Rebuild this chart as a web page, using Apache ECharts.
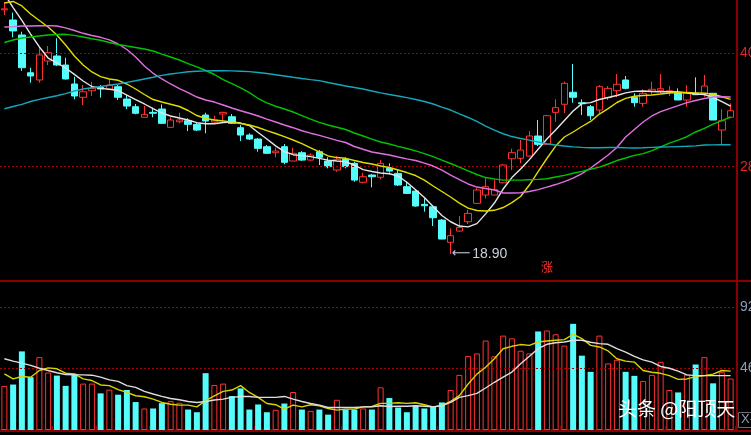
<!DOCTYPE html>
<html><head><meta charset="utf-8">
<script src="https://cdn.jsdelivr.net/npm/echarts@6/dist/echarts.min.js"></script>
<style>html,body{margin:0;padding:0;background:#000;}#chart{width:751px;height:435px;}</style>
</head><body><div id="chart"></div>
<script>
// ---- data ----
const openPrice = [45.16,44.06,42.45,38.39,37.61,39.65,40.19,39.22,37.18,35.75,36.46,36.82,36.61,36.89,35.56,34.74,33.60,34.13,34.49,32.52,33.12,33.23,32.84,33.84,33.09,33.95,33.66,32.48,31.69,31.26,30.44,29.79,30.44,28.90,29.79,29.00,29.90,28.90,27.93,29.11,28.65,26.61,27.39,27.15,28.11,27.57,26.14,25.67,24.24,23.98,22.55,20.16,21.37,22.37,24.35,25.24,25.24,26.56,29.14,29.19,29.43,31.59,30.69,34.13,35.00,36.29,35.17,34.74,34.38,35.71,36.46,37.61,35.75,35.10,36.43,36.46,36.35,36.29,35.46,36.18,36.18,36.18,32.23,33.60];
const closePrice = [45.26,42.88,38.93,38.04,40.30,40.54,39.22,37.72,35.89,36.35,36.71,36.64,37.07,35.75,34.81,34.03,33.92,34.03,32.95,33.31,33.31,32.84,32.23,33.20,33.31,34.13,32.95,31.69,31.26,30.26,29.73,29.97,28.76,29.73,29.00,29.54,29.30,28.29,29.08,28.29,26.85,27.21,27.21,28.65,27.82,26.32,25.42,24.06,24.09,22.80,20.51,20.87,21.77,23.27,25.78,26.14,25.85,28.47,29.79,30.08,31.59,30.69,33.77,34.63,37.25,35.75,35.06,33.77,36.89,36.71,37.15,36.71,35.17,36.18,36.61,36.67,36.46,35.46,36.24,36.03,36.96,33.31,33.23,34.31];
const lowPrice = [44.60,42.20,38.58,37.32,37.32,39.22,39.11,37.66,35.53,34.92,35.89,35.71,36.53,35.46,34.49,33.92,33.60,33.60,32.88,32.52,32.95,32.12,32.12,31.88,32.95,33.20,32.88,31.05,31.16,29.90,29.65,29.30,28.54,28.90,28.90,28.93,28.47,28.11,27.75,28.11,26.67,26.50,26.07,26.93,27.64,26.21,25.35,23.98,23.45,21.91,20.48,18.90,21.30,22.12,24.27,24.89,25.24,26.50,27.93,28.65,29.36,30.51,30.62,33.12,34.03,35.17,33.84,33.31,34.03,35.46,35.75,36.61,34.74,34.74,35.99,36.18,35.89,35.46,34.74,35.99,35.81,33.31,30.73,33.49];
const highPrice = [45.98,44.85,42.80,38.93,41.02,41.26,42.09,40.00,37.96,37.07,37.43,37.07,37.72,37.07,35.99,35.03,34.81,34.63,34.99,33.60,34.09,33.49,33.02,34.09,33.77,34.20,33.95,32.77,31.88,31.37,30.62,30.33,30.73,30.33,29.97,29.73,30.08,29.30,29.43,29.30,28.82,27.64,27.50,29.00,28.65,28.00,26.67,25.78,24.89,24.17,22.66,21.66,22.98,23.63,25.99,27.15,26.96,28.58,30.22,31.16,32.12,33.31,33.84,35.53,37.43,39.33,35.53,34.92,37.07,36.96,38.25,38.04,36.18,36.61,37.43,38.25,36.96,36.71,37.07,37.90,38.15,36.21,34.46,35.10];
const volume = [33,34,58.8,39.5,54.5,43,40.7,33,42,34.7,34.7,27.4,30.2,26.4,29.9,20.9,16.1,16.1,20.1,21.6,20.4,15.3,13.3,42.5,33.7,34.7,25.4,31.1,15.3,19.1,13.3,15.1,19.8,28.4,15.3,14.3,15.3,11.5,22.6,15.3,15.3,16.1,15.3,31.9,23.9,16.8,13.3,18.3,16.1,17.9,20.6,29.9,41.2,55.3,57.3,66.9,55.1,70.6,68.6,59.3,57.3,73.7,74.4,71.6,63.1,79.4,55.6,43.5,70.6,49.8,52.5,43.5,40.5,36.7,41.2,51,29.9,28.1,41.5,49,54.5,34.9,43.2,38.5];
const ma5 = [46.86,45.40,44.01,42.55,41.16,39.97,39.44,38.90,38.22,37.50,36.91,36.71,36.61,36.48,35.99,35.51,35.03,34.52,34.06,33.74,33.52,33.31,33.02,32.90,32.91,33.04,33.09,32.98,32.71,31.96,31.26,30.53,29.91,29.58,29.48,29.37,29.18,29.00,28.90,28.82,28.45,27.98,27.77,27.61,27.53,27.29,26.62,25.81,24.97,24.02,23.04,22.37,21.91,21.82,22.17,23.22,24.38,25.89,27.12,28.04,29.05,30.16,31.26,32.23,33.25,34.27,35.07,35.18,35.51,35.73,35.94,36.22,36.39,36.43,36.37,36.35,36.35,36.32,36.21,36.10,36.05,35.73,35.28,34.81];
const ma10 = [45.89,46.05,45.57,44.70,44.01,43.31,42.45,41.37,40.19,39.22,38.47,37.98,37.72,37.58,37.18,36.64,36.05,35.51,35.24,35.00,34.76,34.33,33.79,33.47,33.31,33.20,33.09,32.93,32.77,32.50,32.17,31.86,31.53,31.16,30.76,30.30,29.87,29.44,29.27,29.19,28.95,28.74,28.58,28.36,28.20,27.93,27.66,27.34,26.85,26.21,25.62,25.03,24.38,23.84,23.58,23.52,23.60,23.90,24.43,25.08,26.32,27.77,29.17,30.51,31.48,32.02,32.61,33.15,33.95,34.54,35.19,35.64,35.86,35.94,36.00,36.10,36.21,36.26,36.26,36.23,36.18,36.08,35.81,35.53];
const ma20 = [43.31,43.34,43.42,43.42,43.44,43.45,43.42,43.22,42.93,42.63,42.39,42.20,41.93,41.48,40.89,40.08,39.11,38.33,37.72,37.18,36.69,36.26,35.78,35.46,35.24,34.92,34.60,34.30,34.03,33.74,33.41,33.09,32.77,32.48,32.15,31.89,31.66,31.39,31.12,30.89,30.46,30.16,29.87,29.71,29.54,29.33,29.13,28.95,28.68,28.36,27.93,27.39,26.89,26.43,26.10,25.94,25.78,25.46,25.46,25.49,25.62,25.83,26.10,26.37,26.69,27.07,27.55,28.15,28.84,29.54,30.35,31.48,32.29,33.09,33.74,34.20,34.54,34.85,35.17,35.40,35.62,35.78,35.81,35.78];
const ma30 = [41.64,41.91,42.12,42.23,42.34,42.45,42.50,42.52,42.41,42.23,42.05,41.88,41.64,41.42,41.26,41.10,40.94,40.73,40.40,40.08,39.76,39.38,39.01,38.63,38.20,37.66,37.23,36.75,36.26,35.62,35.14,34.79,34.49,34.17,33.79,33.41,33.06,32.77,32.53,32.29,31.91,31.59,31.26,30.94,30.73,30.48,30.24,29.99,29.70,29.38,29.00,28.63,28.25,27.85,27.45,27.12,26.98,26.85,26.85,26.85,26.89,26.93,26.99,27.18,27.36,27.58,27.79,28.01,28.25,28.58,28.95,29.22,29.51,29.70,30.01,30.43,30.83,31.15,31.51,32.02,32.41,32.87,33.25,33.63];
const ma60 = [34.52,34.76,34.99,35.30,35.52,35.73,35.92,36.14,36.43,36.64,36.78,36.91,37.04,37.18,37.36,37.53,37.72,37.90,38.11,38.25,38.38,38.49,38.55,38.59,38.61,38.61,38.59,38.55,38.51,38.41,38.31,38.18,38.04,37.90,37.77,37.65,37.54,37.34,37.15,36.96,36.80,36.64,36.43,36.23,36.05,35.89,35.71,35.51,35.30,35.03,34.70,34.38,33.97,33.58,33.15,32.66,32.23,31.83,31.53,31.32,31.15,30.94,30.75,30.62,30.51,30.42,30.37,30.33,30.33,30.35,30.36,30.32,30.30,30.33,30.37,30.40,30.42,30.45,30.48,30.53,30.62,30.64,30.65,30.65];
const volMa5 = [42.0,38.2,40.0,39.5,44.5,46.5,45.8,42.5,42.0,38.2,37.0,33.7,33.2,30.2,28.1,25.6,24.9,23.1,20.6,19.3,18.6,18.6,17.3,21.9,25.6,28.9,29.9,33.2,28.1,24.4,19.8,18.9,15.6,18.6,17.3,18.9,18.1,16.1,14.9,15.6,15.6,17.3,17.6,19.9,19.9,20.4,19.9,20.4,18.9,17.3,18.4,21.4,25.7,34.4,41.8,46.9,53.3,60.8,62.6,63.9,63.3,65.8,66.6,67.1,67.6,71.6,68.4,63.3,62.1,59.1,53.3,51.5,50.8,44.5,43.2,42.4,40.7,37.9,38.2,39.9,40.7,41.8,44.5,44.0];
const volMa10 = [53.3,51.5,50.0,48.3,46.2,44.5,42.8,41.5,41.2,41.2,41.0,39.5,37.5,36.4,33.2,31.9,28.9,26.9,25.1,23.6,22.6,21.3,20.6,21.3,22.4,23.1,24.4,25.1,25.1,24.4,24.4,24.4,25.1,23.1,21.3,19.8,18.6,16.8,16.8,16.8,16.8,17.3,17.3,18.1,17.6,17.8,17.8,18.1,17.8,17.3,18.1,20.6,24.4,25.7,27.4,31.4,35.7,39.5,43.3,49.5,55.1,60.8,64.1,65.3,65.8,67.1,67.1,65.6,64.6,64.1,60.8,58.3,55.1,52.5,50.8,47.5,46.2,44.0,41.2,40.7,40.7,40.7,40.7,40.7];
const priceTicks = [40.48, 28.29];
const volumeTicks = [92, 46];
const monthTickIndex = [6, 11, 17, 29, 39, 50, 64, 76];
const lowMarkIndex = 51;
const lowMarkValue = 18.90;

const categories = openPrice.map((_, i) => String(i + 1));

// ---- styles ----
const UP = '#ff3232', DOWN = '#54fcfc', AXIS = '#8a0000', GRIDDOT = '#a80000';
const candleData = openPrice.map((o, i) => [o, closePrice[i], lowPrice[i], highPrice[i]]);
const volData = volume.map((v, i) => ({
  value: v,
  itemStyle: closePrice[i] >= openPrice[i]
    ? { color: '#000', borderColor: UP, borderWidth: 1 }
    : { color: DOWN, borderWidth: 0 }
}));

function maLine(name, data, color, xi, yi) {
  return { name, type: 'line', data, xAxisIndex: xi, yAxisIndex: yi, symbol: 'none', smooth: false,
    lineStyle: { color, width: 1.4 }, z: 5, silent: true, clip: true };
}

const chart = echarts.init(document.getElementById('chart'), null, { renderer: 'canvas' });
chart.setOption({
  backgroundColor: '#000',
  animation: false,
  grid: [
    { left: 0, top: 0, width: 735, height: 281, containLabel: false, outerBoundsMode: 'none' },
    { left: 0, top: 282, width: 735, height: 148, containLabel: false, outerBoundsMode: 'none' }
  ],
  xAxis: [
    { type: 'category', gridIndex: 0, data: categories, boundaryGap: true,
      axisLine: { show: false }, axisTick: { show: false }, axisLabel: { show: false }, splitLine: { show: false } },
    { type: 'category', gridIndex: 1, data: categories, boundaryGap: true,
      axisLine: { show: true, lineStyle: { color: AXIS, width: 2 } },
      axisTick: { show: true, inside: true, length: 4, lineStyle: { color: AXIS, width: 1 },
        interval: (idx) => monthTickIndex.includes(idx) },
      axisLabel: { show: false }, splitLine: { show: false } }
  ],
  yAxis: [
    { type: 'value', gridIndex: 0, position: 'right', offset: 2, min: 16, max: 46.21,
      axisLine: { show: true, lineStyle: { color: AXIS, width: 2 } }, axisTick: { show: false },
      splitLine: { show: false },
      axisLabel: { customValues: priceTicks, color: '#e02424', fontSize: 14, margin: 3,
        fontFamily: 'Liberation Sans', formatter: (v) => v.toFixed(2) } },
    { type: 'value', gridIndex: 1, position: 'right', offset: 2, min: 0, max: 110.7,
      axisLine: { show: true, lineStyle: { color: AXIS, width: 2 } }, axisTick: { show: false },
      splitLine: { show: false },
      axisLabel: { customValues: volumeTicks, color: '#8e9cb8', fontSize: 14, margin: 3,
        fontFamily: 'Liberation Sans', formatter: (v) => String(v) } }
  ],
  series: [
    { name: 'K', type: 'candlestick', data: candleData, xAxisIndex: 0, yAxisIndex: 0, barWidth: 7, z: 3,
      itemStyle: { color: '#000', color0: DOWN, borderColor: UP, borderColor0: DOWN, borderWidth: 1 },
      markLine: { silent: true, symbol: 'none', label: { show: false },
        lineStyle: { color: GRIDDOT, type: [2, 2], width: 1.2 },
        data: priceTicks.map(v => ({ yAxis: v })) },
      markPoint: { silent: true, symbol: 'circle', symbolSize: 0,
        data: [{ coord: [categories[lowMarkIndex], lowMarkValue], value: lowMarkValue }],
        label: { show: true, position: 'right', distance: 1,
          formatter: () => '{a|⟵}{b|' + lowMarkValue.toFixed(2) + '}',
          rich: { a: { color: '#c8d0dc', fontSize: 13, fontFamily: 'DejaVu Sans' },
                  b: { color: '#c8d0dc', fontSize: 14, fontFamily: 'Liberation Sans', padding: [0, 0, 0, 2] } } } }
    },
    maLine('MA5', ma5, '#e6e6e6', 0, 0),
    maLine('MA10', ma10, '#e0dc00', 0, 0),
    maLine('MA20', ma20, '#e070e0', 0, 0),
    maLine('MA30', ma30, '#00c400', 0, 0),
    maLine('MA60', ma60, '#14a8bc', 0, 0),
    { name: 'VOL', type: 'bar', data: volData, xAxisIndex: 1, yAxisIndex: 1, barWidth: 6, z: 3,
      markLine: { silent: true, symbol: 'none', label: { show: false },
        lineStyle: { color: GRIDDOT, type: [2, 2], width: 1.2 },
        data: volumeTicks.map(v => ({ yAxis: v })) } },
    maLine('VMA5', volMa5, '#d8d400', 1, 1),
    maLine('VMA10', volMa10, '#dedede', 1, 1)
  ],
  graphic: [
    { type: 'line', shape: { x1: 0, y1: 281, x2: 751, y2: 281 }, style: { stroke: AXIS, lineWidth: 2 }, z: 10 },
    { type: 'line', shape: { x1: 0, y1: 431, x2: 751, y2: 431 }, style: { stroke: AXIS, lineWidth: 2 }, z: 10 },
    { type: 'text', left: 541, top: 261, style: { text: '涨', fill: '#ff3030', font: '12px "Noto Sans CJK SC"' }, z: 10 },
    { type: 'rect', shape: { x: 738.5, y: 412.5, width: 20, height: 15 }, style: { fill: 'none', stroke: '#6e6e6e', lineWidth: 1 }, z: 10 },
    { type: 'text', left: 741, top: 413, style: { text: 'X-1', fill: '#8e9cb8', font: '13px "Liberation Sans"' }, z: 10 },
    { type: 'text', left: 618, top: 399, style: { text: '头条 @阳顶天', fill: '#ffffff', font: '19px "Noto Sans CJK SC"',
      shadowColor: 'rgba(0,0,0,0.8)', shadowBlur: 2 }, z: 20 }
  ]
});
</script>
</body></html>
